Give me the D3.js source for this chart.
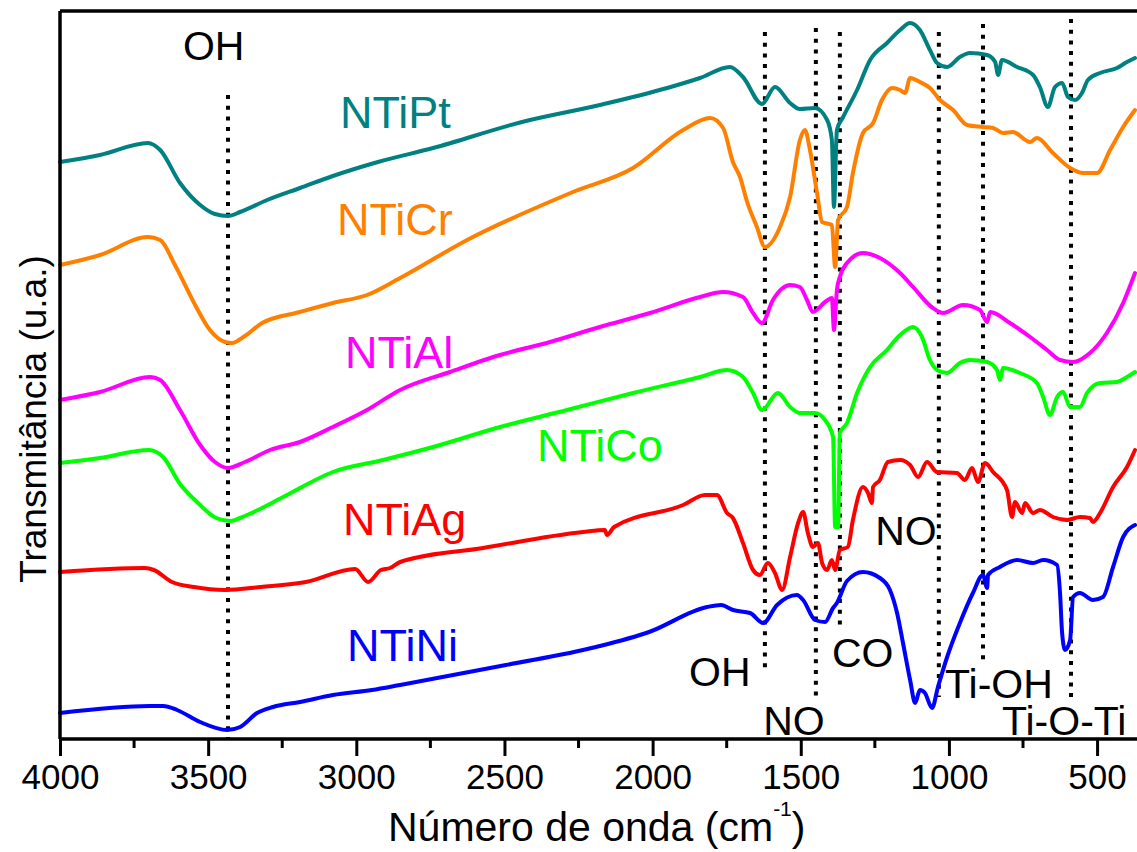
<!DOCTYPE html>
<html>
<head>
<meta charset="utf-8">
<script src="https://cdn.jsdelivr.net/npm/d3@7"></script>
<style>
  html, body { margin: 0; padding: 0; background: #ffffff; }
  svg { display: block; }
</style>
</head>
<body>
<svg id="chart" width="1137" height="852"></svg>
<script>
// FTIR spectra of doped TiO2 nanotubes: [wavenumber (cm-1), transmittance (a.u., stacked)]
const ntiPt = [[4000,57.8],[3865,58.5],[3703,59.7],[3662,59.0],[3595,55.7],[3527,53.5],[3477,52.6],[3433,52.4],[3392,52.8],[3301,54.0],[3190,55.2],[3079,56.4],[2927,57.8],[2741,59.2],[2441,61.8],[2178,63.5],[1951,65.2],[1840,66.2],[1739,67.3],[1695,66.3],[1631,63.6],[1587,65.3],[1536,63.7],[1503,63.1],[1452,63.2],[1411,62.0],[1395,60.0],[1388,53.3],[1378,61.0],[1357,62.3],[1310,65.0],[1266,68.0],[1209,69.7],[1165,71.0],[1131,71.7],[1098,71.0],[1064,69.0],[1040,67.7],[1006,67.3],[963,68.3],[929,68.7],[871,68.5],[844,67.8],[834,66.5],[821,68.0],[770,67.3],[716,66.5],[693,65.3],[666,63.3],[642,65.3],[618,65.7],[598,64.3],[574,64.0],[551,64.7],[531,66.0],[490,66.7],[433,67.2],[399,67.8],[372,68.2]];

const ntiCr = [[4000,47.5],[3865,48.5],[3703,50.3],[3662,50.0],[3612,47.5],[3544,43.5],[3494,41.0],[3443,39.8],[3420,39.7],[3376,40.4],[3318,41.7],[3190,42.8],[3079,43.7],[2964,44.5],[2852,46.2],[2626,50.0],[2269,54.8],[2066,57.2],[1897,61.0],[1806,62.2],[1762,61.2],[1729,57.8],[1705,56.3],[1681,53.8],[1648,51.3],[1621,49.3],[1570,51.3],[1536,54.3],[1503,60.0],[1486,61.0],[1469,59.0],[1445,54.7],[1428,51.8],[1395,51.5],[1384,47.3],[1374,52.0],[1344,53.3],[1324,56.7],[1290,60.7],[1256,61.7],[1226,64.0],[1192,65.2],[1165,65.0],[1148,64.7],[1131,66.2],[1098,65.8],[1064,65.2],[1030,64.0],[986,63.0],[939,61.5],[885,61.3],[851,61.2],[817,60.7],[784,60.8],[726,59.8],[703,60.2],[649,58.7],[591,57.2],[547,56.7],[500,56.7],[456,59.0],[412,61.3],[372,63.0]];

const ntiAl = [[4000,34.0],[3865,34.8],[3696,36.3],[3662,36.0],[3595,33.0],[3527,29.5],[3477,27.8],[3433,27.2],[3376,27.8],[3291,29.0],[3190,29.8],[3079,31.3],[2964,33.0],[2852,35.0],[2684,36.8],[2515,38.5],[2346,39.8],[2178,41.3],[2009,42.7],[1840,44.3],[1762,44.8],[1695,44.3],[1661,42.7],[1631,41.7],[1594,44.0],[1536,45.5],[1503,45.3],[1479,44.0],[1459,42.8],[1418,43.8],[1395,44.2],[1388,41.0],[1378,45.0],[1368,46.3],[1344,47.7],[1290,48.7],[1233,48.2],[1165,46.7],[1121,45.3],[1054,43.2],[1020,42.7],[952,43.5],[895,43.0],[871,41.8],[861,42.8],[794,41.7],[726,40.3],[669,39.0],[625,38.0],[581,37.8],[524,38.7],[467,40.7],[412,43.7],[372,46.7]];

const ntiCo = [[4000,27.7],[3865,28.2],[3700,29.0],[3652,28.3],[3595,25.6],[3534,23.7],[3473,22.2],[3426,21.9],[3369,22.5],[3247,24.3],[3079,26.8],[2910,28.0],[2741,29.3],[2515,31.3],[2289,33.0],[2066,34.7],[1840,36.3],[1749,37.0],[1695,36.3],[1661,34.7],[1631,33.0],[1577,34.7],[1536,33.3],[1503,32.7],[1452,32.7],[1418,32.0],[1391,30.3],[1384,21.3],[1374,21.3],[1368,30.7],[1344,31.7],[1310,34.7],[1266,37.3],[1209,39.0],[1165,40.5],[1121,41.3],[1091,40.3],[1064,38.0],[1040,37.0],[1006,36.7],[963,37.7],[929,38.0],[871,37.8],[838,37.0],[828,36.0],[817,37.2],[760,36.7],[703,35.7],[682,34.3],[659,32.5],[635,34.3],[615,34.8],[591,33.3],[558,33.3],[534,34.7],[490,35.7],[433,35.8],[399,36.3],[372,36.8]];

const ntiAg = [[4000,16.8],[3713,17.2],[3683,17.0],[3622,15.8],[3548,15.3],[3443,15.0],[3322,15.3],[3170,15.8],[3004,17.1],[2960,15.8],[2917,17.0],[2886,17.2],[2852,17.8],[2572,19.2],[2235,20.8],[2161,21.0],[2154,20.5],[2130,21.3],[1897,23.5],[1823,24.5],[1783,24.5],[1749,22.7],[1729,22.2],[1695,19.7],[1661,17.0],[1638,16.5],[1611,17.7],[1587,16.7],[1563,15.0],[1536,18.3],[1509,21.7],[1492,22.8],[1476,20.7],[1459,19.3],[1442,19.7],[1428,17.7],[1411,17.0],[1395,18.0],[1384,17.0],[1368,19.0],[1341,19.3],[1324,22.0],[1290,25.3],[1273,24.7],[1260,23.7],[1256,25.3],[1233,26.0],[1206,27.8],[1165,28.0],[1131,27.5],[1104,26.3],[1074,27.8],[1040,26.8],[973,26.7],[946,26.0],[922,27.2],[902,25.8],[878,27.7],[851,26.8],[804,25.0],[787,22.3],[777,23.8],[753,22.7],[743,23.7],[716,22.7],[693,23.0],[649,22.3],[601,22.0],[558,22.3],[524,22.2],[514,21.8],[490,22.7],[446,25.3],[399,27.3],[372,29.0]];

const ntiNi = [[4000,2.7],[3696,3.4],[3652,3.4],[3605,3.0],[3527,1.8],[3436,1.0],[3392,1.3],[3335,2.7],[3281,3.3],[3190,3.8],[3079,4.5],[2947,5.0],[2852,5.5],[2495,7.5],[2191,9.3],[2012,10.8],[1816,13.3],[1769,13.5],[1729,13.0],[1671,12.7],[1627,11.7],[1580,13.5],[1513,14.5],[1492,14.0],[1452,12.0],[1418,11.8],[1391,13.2],[1378,13.7],[1344,15.9],[1290,16.8],[1233,16.2],[1199,15.0],[1175,12.7],[1155,9.7],[1131,6.0],[1114,3.7],[1098,5.0],[1081,4.7],[1057,3.2],[1037,5.3],[1006,8.3],[963,11.7],[919,14.7],[885,16.5],[871,15.2],[868,16.5],[828,17.3],[770,18.0],[716,17.7],[682,18.0],[635,17.5],[625,14.7],[618,10.7],[608,9.0],[591,10.0],[581,14.3],[558,14.7],[514,14.0],[480,14.3],[446,17.3],[412,20.3],[372,21.5]];

// Sample names, colours and where each name sits (wavenumber, level)
const sampleNames = ["NTiPt", "NTiCr", "NTiAl", "NTiCo", "NTiAg", "NTiNi"];
const sampleColors = ["#008080", "#ff8000", "#ff00ff", "#00ff00", "#ff0000", "#0000ff"];
const sampleData = [ntiPt, ntiCr, ntiAl, ntiCo, ntiAg, ntiNi];
const sampleLabelAt = [[3055,61.2],[3065,50.5],[3038,37.2],[2390,27.9],[3045,20.5],[3031,7.9]];

// Band assignments: marker wavenumber, [top level, bottom level]
const bandPositions = [3433, 1621, 1449, 1368, 1034, 885, 588];
const bandSpans = [[64.5,0],[70.8,7.2],[71.2,4.3],[70.8,11.3],[70.8,4.3],[71.6,7.8],[72.1,4.0]];
const bandTexts = ["OH", "OH", "NO", "CO", "NO", "Ti-OH", "Ti-O-Ti"];
const bandTextAt = [[3585,68.0],[1877,5.4],[1627,0.5],[1395,7.3],[1249,19.5],[1013,4.2],[821,0.5]];

// Axis ticks
const majorTicks = [4000, 3500, 3000, 2500, 2000, 1500, 1000, 500];
const majorTickLabels = ["4000", "3500", "3000", "2500", "2000", "1500", "1000", "500"];
const minorTicks = [3750, 3250, 2750, 2250, 1750, 1250, 750];

const FONT = "'Liberation Sans', Arial, Helvetica, sans-serif";

const svg = d3.select("#chart");
const plot = { left: 60, right: 1135, top: 11, bottom: 739 };

const x = d3.scaleLinear().domain([4000, 372]).range([plot.left, plot.right]);
const y = d3.scaleLinear().domain([0, 73]).range([740, 10]);

// Dotted band markers
svg.append("g").selectAll("line")
  .data(bandPositions)
  .join("line")
  .attr("x1", d => x(d)).attr("x2", d => x(d))
  .attr("y1", (d, i) => y(bandSpans[i][0]))
  .attr("y2", (d, i) => y(bandSpans[i][1]))
  .attr("stroke", "#000")
  .attr("stroke-width", 4)
  .attr("stroke-dasharray", "4,6.7");

// Spectra
const line = d3.line()
  .x(d => x(d[0]))
  .y(d => y(d[1]))
  .curve(d3.curveMonotoneX);

svg.append("g").selectAll("path")
  .data(sampleData)
  .join("path")
  .attr("d", line)
  .attr("fill", "none")
  .attr("stroke", (d, i) => sampleColors[i])
  .attr("stroke-width", 4)
  .attr("stroke-linejoin", "round")
  .attr("stroke-linecap", "round");

// Sample names
svg.append("g").selectAll("text")
  .data(sampleNames)
  .join("text")
  .attr("x", (d, i) => x(sampleLabelAt[i][0]))
  .attr("y", (d, i) => y(sampleLabelAt[i][1]))
  .attr("fill", (d, i) => sampleColors[i])
  .attr("font-family", FONT)
  .attr("font-size", 45)
  .text(d => d);

// Band labels
svg.append("g").selectAll("text")
  .data(bandTexts)
  .join("text")
  .attr("x", (d, i) => x(bandTextAt[i][0]))
  .attr("y", (d, i) => y(bandTextAt[i][1]))
  .attr("fill", "#000")
  .attr("font-family", FONT)
  .attr("font-size", 41)
  .text(d => d);

// Frame: left and top edges
svg.append("line")
  .attr("x1", plot.left).attr("x2", plot.left)
  .attr("y1", plot.top).attr("y2", plot.bottom)
  .attr("stroke", "#000").attr("stroke-width", 3.5);
svg.append("line")
  .attr("x1", plot.left).attr("x2", 1137)
  .attr("y1", plot.top).attr("y2", plot.top)
  .attr("stroke", "#000").attr("stroke-width", 3.5);

// Bottom axis
const xAxis = d3.axisBottom(x)
  .tickValues(majorTicks)
  .tickFormat((d, i) => majorTickLabels[i])
  .tickSizeInner(17)
  .tickSizeOuter(0)
  .tickPadding(8);

const gx = svg.append("g")
  .attr("transform", `translate(0,${plot.bottom})`)
  .call(xAxis);
gx.select(".domain").attr("stroke", "#000").attr("stroke-width", 3.5)
  .attr("d", `M${plot.left},0H1137`);
gx.selectAll(".tick line").attr("stroke", "#000").attr("stroke-width", 3);
gx.selectAll(".tick text")
  .attr("font-family", FONT)
  .attr("font-size", 35)
  .attr("fill", "#000");

svg.append("g")
  .attr("transform", `translate(0,${plot.bottom})`)
  .selectAll("line")
  .data(minorTicks)
  .join("line")
  .attr("x1", d => x(d)).attr("x2", d => x(d))
  .attr("y1", 0).attr("y2", 9)
  .attr("stroke", "#000").attr("stroke-width", 3);

// Axis titles
const xt = svg.append("text")
  .attr("x", 388).attr("y", 841)
  .attr("font-family", FONT)
  .attr("font-size", 41)
  .attr("fill", "#000");
xt.append("tspan").text("Número de onda (cm");
xt.append("tspan").attr("dy", -25).attr("font-size", 21).text("-1");
xt.append("tspan").attr("dy", 25).text(")");

svg.append("text")
  .attr("transform", "translate(46,419) rotate(-90)")
  .attr("text-anchor", "middle")
  .attr("font-family", FONT)
  .attr("font-size", 37)
  .attr("fill", "#000")
  .text("Transmitância (u.a.)");
</script>
</body>
</html>
